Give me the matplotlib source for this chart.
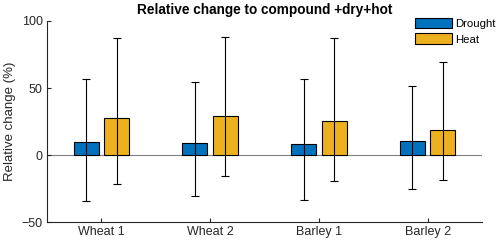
import numpy as np
import matplotlib.pyplot as plt

plt.rcParams['font.family'] = ['Liberation Sans', 'DejaVu Sans']

# values
crops = ['Wheat 1', 'Wheat 2', 'Barley 1', 'Barley 2']
drought = [9.7, 8.7, 8.0, 10.7]
drought_hi = [56.7, 54.2, 56.5, 51.5]
drought_lo = [-34.3, -30.8, -33.8, -25.4]
heat = [27.6, 29.1, 25.1, 18.9]
heat_hi = [87.5, 88.3, 87.5, 69.4]
heat_lo = [-21.6, -15.7, -19.6, -18.4]

ink = '#262626'
x = np.arange(1, len(crops) + 1)
w = 0.23
off = 0.14

fig = plt.figure(figsize=(5.0, 2.47), dpi=100)
ax = fig.add_axes([0.094, 0.101, 0.870, 0.814])

ax.axhline(0, color='#808080', lw=0.8, zorder=1)
ax.bar(x - off, drought, w, color='#0072BD', edgecolor='black', lw=0.8, label='Drought', zorder=2)
ax.bar(x + off, heat, w, color='#EDB120', edgecolor='black', lw=0.8, label='Heat', zorder=2)

d = np.array(drought)
h = np.array(heat)
ax.errorbar(x - off, d, yerr=[d - np.array(drought_lo), np.array(drought_hi) - d],
            fmt='none', ecolor='black', elinewidth=0.8, capsize=3, capthick=0.8, zorder=3)
ax.errorbar(x + off, h, yerr=[h - np.array(heat_lo), np.array(heat_hi) - h],
            fmt='none', ecolor='black', elinewidth=0.8, capsize=3, capthick=0.8, zorder=3)

ax.set_xlim(0.5, 4.5)
ax.set_ylim(-50, 100)
ax.set_xticks(x)
ax.set_xticklabels(crops)
ax.set_yticks([-50, 0, 50, 100])
ax.tick_params(direction='in', length=3, width=0.8, colors=ink, labelsize=9, pad=3)
for s in ['top', 'right']:
    ax.spines[s].set_visible(False)
for s in ['left', 'bottom']:
    ax.spines[s].set_color(ink)
    ax.spines[s].set_linewidth(0.8)

ax.set_ylabel('Relative change (%)', fontsize=9.5, color=ink, labelpad=4)
ax.set_title('Relative change to compound +dry+hot', fontsize=9.8, fontweight='bold', color='black', pad=5)

ax.legend(loc='upper left', bbox_to_anchor=(0.832, 1.045), frameon=False, fontsize=8.2,
          handlelength=3.3, handleheight=1.05, handletextpad=0.3, labelspacing=0.4, borderpad=0.0)

fig.savefig('out.png', dpi=100)
